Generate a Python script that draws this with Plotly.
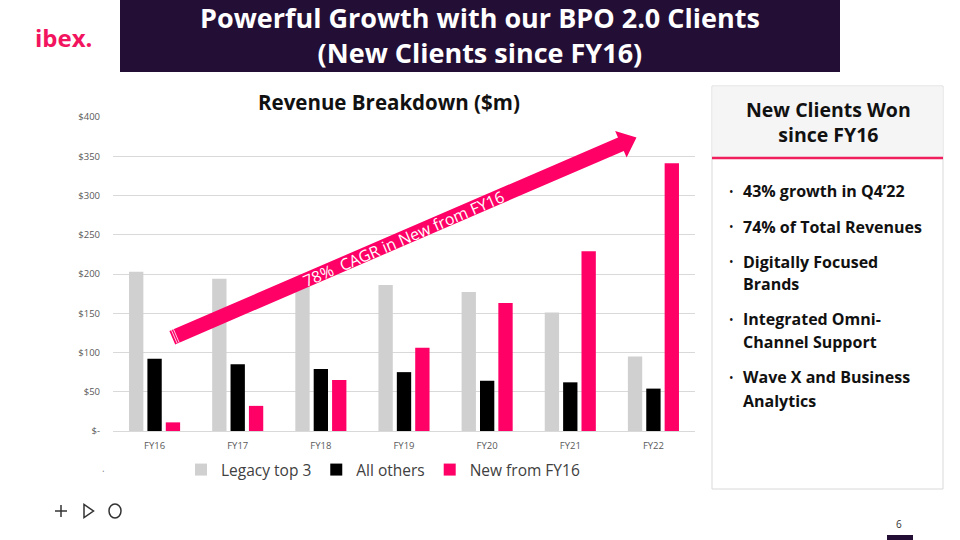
import math
import plotly.graph_objects as go

# ---------------- data ----------------
categories = ["FY16", "FY17", "FY18", "FY19", "FY20", "FY21", "FY22"]
legacy_top3 = [203, 194, 190, 186, 177, 151, 95]
all_others = [92, 85, 79, 75, 64, 62, 54]
new_from_fy16 = [11, 32, 65, 106, 163, 229, 341]
y_tickvals = [0, 50, 100, 150, 200, 250, 300, 350, 400]
y_ticktext = ["$-", "$50", "$100", "$150", "$200", "$250", "$300", "$350", "$400"]
series_names = ["Legacy top 3", "All others", "New from FY16"]

bullets = [
    ["43% growth in Q4’22"],
    ["74% of Total Revenues"],
    ["Digitally Focused", "Brands"],
    ["Integrated Omni-", "Channel Support"],
    ["Wave X and Business", "Analytics"],
]

# ---------------- styling ----------------
GRAY = "#d0d0d0"
BLACK = "#000000"
PINK = "#ff0066"
LOGO_PINK = "#f2145e"
PURPLE = "#230e35"
FONT = "Open Sans"

PL, PR, PT, PB = 113, 695, 117, 431  # plot area in pixels


def fx(px):
    return (px - PL) / (PR - PL)


def fy(py):
    return (PB - py) / (PB - PT)


def path(points):
    return "M " + " L ".join(f"{fx(x):.5f} {fy(y):.5f}" for x, y in points) + " Z"


fig = go.Figure()
for name, vals, col in zip(series_names, [legacy_top3, all_others, new_from_fy16], [GRAY, BLACK, PINK]):
    fig.add_trace(go.Bar(x=categories, y=vals, name=name, marker=dict(color=col, line=dict(width=0))))

shapes = []
annotations = []

# title box
shapes.append(dict(type="rect", xref="paper", yref="paper", x0=fx(120), x1=fx(840), y0=fy(72), y1=fy(0),
                   fillcolor=PURPLE, line=dict(width=0), layer="above"))
annotations.append(dict(xref="paper", yref="paper", x=fx(480), y=fy(35.5),
                        text="<b>Powerful Growth with our BPO 2.0 Clients<br>(New Clients since FY16)</b>",
                        showarrow=False, align="center", font=dict(family=FONT, size=27, color="white"),
                        xanchor="center", yanchor="middle"))

# logo
annotations.append(dict(xref="paper", yref="paper", x=fx(33), y=fy(37), text="<b>ibex.</b>", showarrow=False,
                        font=dict(family=FONT, size=24, color=LOGO_PINK), xanchor="left", yanchor="middle"))

# chart title
annotations.append(dict(xref="paper", yref="paper", x=fx(389), y=fy(102), text="<b>Revenue Breakdown ($m)</b>",
                        showarrow=False, font=dict(family=FONT, size=20.5, color="#111111"), xanchor="center", yanchor="middle"))

# arrow
T = (172.3, 337.7)
H = (636.5, 137.5)
dx, dy = H[0] - T[0], H[1] - T[1]
L = math.hypot(dx, dy)
u = (dx / L, dy / L)
n = (-u[1], u[0])
hw, hh, hl = 7.3, 14.5, 17
B = (H[0] - u[0] * hl, H[1] - u[1] * hl)
pts = [
    (T[0] + n[0] * hw, T[1] + n[1] * hw),
    (B[0] + n[0] * hw, B[1] + n[1] * hw),
    (B[0] + n[0] * hh, B[1] + n[1] * hh),
    H,
    (B[0] - n[0] * hh, B[1] - n[1] * hh),
    (B[0] - n[0] * hw, B[1] - n[1] * hw),
    (T[0] - n[0] * hw, T[1] - n[1] * hw),
]
shapes.append(dict(type="path", xref="paper", yref="paper", path=path(pts), fillcolor=PINK,
                   line=dict(width=0), layer="above"))
for d in (2.2, 4.4):
    c = (T[0] + u[0] * d, T[1] + u[1] * d)
    shapes.append(dict(type="line", xref="paper", yref="paper",
                       x0=fx(c[0] + n[0] * hw), y0=fy(c[1] + n[1] * hw),
                       x1=fx(c[0] - n[0] * hw), y1=fy(c[1] - n[1] * hw),
                       line=dict(color="white", width=0.8), layer="above"))
ang = math.degrees(math.atan2(-dy, dx))
annotations.append(dict(xref="paper", yref="paper", x=fx(403), y=fy(239), text="78%\u00a0 CAGR in New from FY16",
                        showarrow=False, textangle=-ang, font=dict(family="Open Sans", size=16, color="white"),
                        xanchor="center", yanchor="middle"))

# right panel
shapes.append(dict(type="rect", xref="paper", yref="paper", x0=fx(712), x1=fx(943), y0=fy(489), y1=fy(86),
                   fillcolor="white", line=dict(color="#d9d9d9", width=1), layer="below"))
shapes.append(dict(type="rect", xref="paper", yref="paper", x0=fx(712.5), x1=fx(942.5), y0=fy(157), y1=fy(86.5),
                   fillcolor="#f5f5f5", line=dict(width=0), layer="below"))
shapes.append(dict(type="line", xref="paper", yref="paper", x0=fx(712), x1=fx(943), y0=fy(158), y1=fy(158),
                   line=dict(color="#f0205f", width=2.5), layer="above"))
annotations.append(dict(xref="paper", yref="paper", x=fx(828), y=fy(121.5), text="<b>New Clients Won<br>since FY16</b>",
                        showarrow=False, align="center", font=dict(family=FONT, size=19.5, color="#111111"),
                        xanchor="center", yanchor="middle"))
bullet_y = [[191], [226.7], [261.7, 284], [319.3, 342], [377.3, 400.7]]
for lines, ys in zip(bullets, bullet_y):
    annotations.append(dict(xref="paper", yref="paper", x=fx(731), y=fy(ys[0]), text="•", showarrow=False,
                            font=dict(family=FONT, size=12, color="#111111"), xanchor="center", yanchor="middle"))
    for line, yy in zip(lines, ys):
        annotations.append(dict(xref="paper", yref="paper", x=fx(740.5), y=fy(yy), text=f"<b>{line}</b>",
                                showarrow=False, font=dict(family=FONT, size=16, color="#111111"),
                                xanchor="left", yanchor="middle"))

# small dot near legend
annotations.append(dict(xref="paper", yref="paper", x=fx(103), y=fy(468), text=".", showarrow=False,
                        font=dict(family=FONT, size=10, color="#888888"), xanchor="center", yanchor="middle"))

# bottom-left icons
ic = "#333333"
shapes.append(dict(type="line", xref="paper", yref="paper", x0=fx(55), x1=fx(67), y0=fy(511), y1=fy(511),
                   line=dict(color=ic, width=1.5)))
shapes.append(dict(type="line", xref="paper", yref="paper", x0=fx(61), x1=fx(61), y0=fy(505), y1=fy(517),
                   line=dict(color=ic, width=1.5)))
shapes.append(dict(type="path", xref="paper", yref="paper", path=path([(84, 504.5), (84, 517.5), (93.5, 511)]),
                   line=dict(color=ic, width=1.5), fillcolor="rgba(0,0,0,0)"))
shapes.append(dict(type="circle", xref="paper", yref="paper", x0=fx(109), x1=fx(121), y0=fy(518), y1=fy(504),
                   line=dict(color=ic, width=1.5), fillcolor="rgba(0,0,0,0)"))

# page number
annotations.append(dict(xref="paper", yref="paper", x=fx(899), y=fy(524), text="6", showarrow=False,
                        font=dict(family=FONT, size=10, color="#333333"), xanchor="center", yanchor="middle"))
shapes.append(dict(type="rect", xref="paper", yref="paper", x0=fx(887), x1=fx(913), y0=fy(541), y1=fy(535),
                   fillcolor=PURPLE, line=dict(width=0)))

fig.update_layout(
    width=960, height=540, autosize=False,
    margin=dict(l=PL, r=960 - PR, t=PT, b=540 - PB, pad=0),
    paper_bgcolor="white", plot_bgcolor="white",
    barmode="group", bargap=0.337, bargroupgap=0.22,
    font=dict(family=FONT, color="#595959"),
    showlegend=True,
    legend=dict(orientation="h", x=fx(181), y=fy(470), xanchor="left", yanchor="middle",
                font=dict(family=FONT, size=15.5, color="#404040"), bgcolor="rgba(0,0,0,0)",
                itemclick=False, itemdoubleclick=False),
    shapes=shapes,
    annotations=annotations,
)
fig.update_yaxes(range=[0, 400], tickvals=y_tickvals, ticktext=y_ticktext, showgrid=True, gridcolor="#d9d9d9",
                 gridwidth=1, zeroline=False, showline=False, ticks="", ticklabelstandoff=12,
                 tickfont=dict(family=FONT, size=9.5, color="#595959"), fixedrange=True)
fig.update_xaxes(showline=True, linecolor="#d9d9d9", linewidth=1, ticks="", ticklabelstandoff=6,
                 tickfont=dict(family=FONT, size=9.5, color="#595959"), fixedrange=True)

fig.write_html("out.html", config={"displayModeBar": False},
               post_script="document.body.style.margin='0';document.body.style.overflow='hidden';")
